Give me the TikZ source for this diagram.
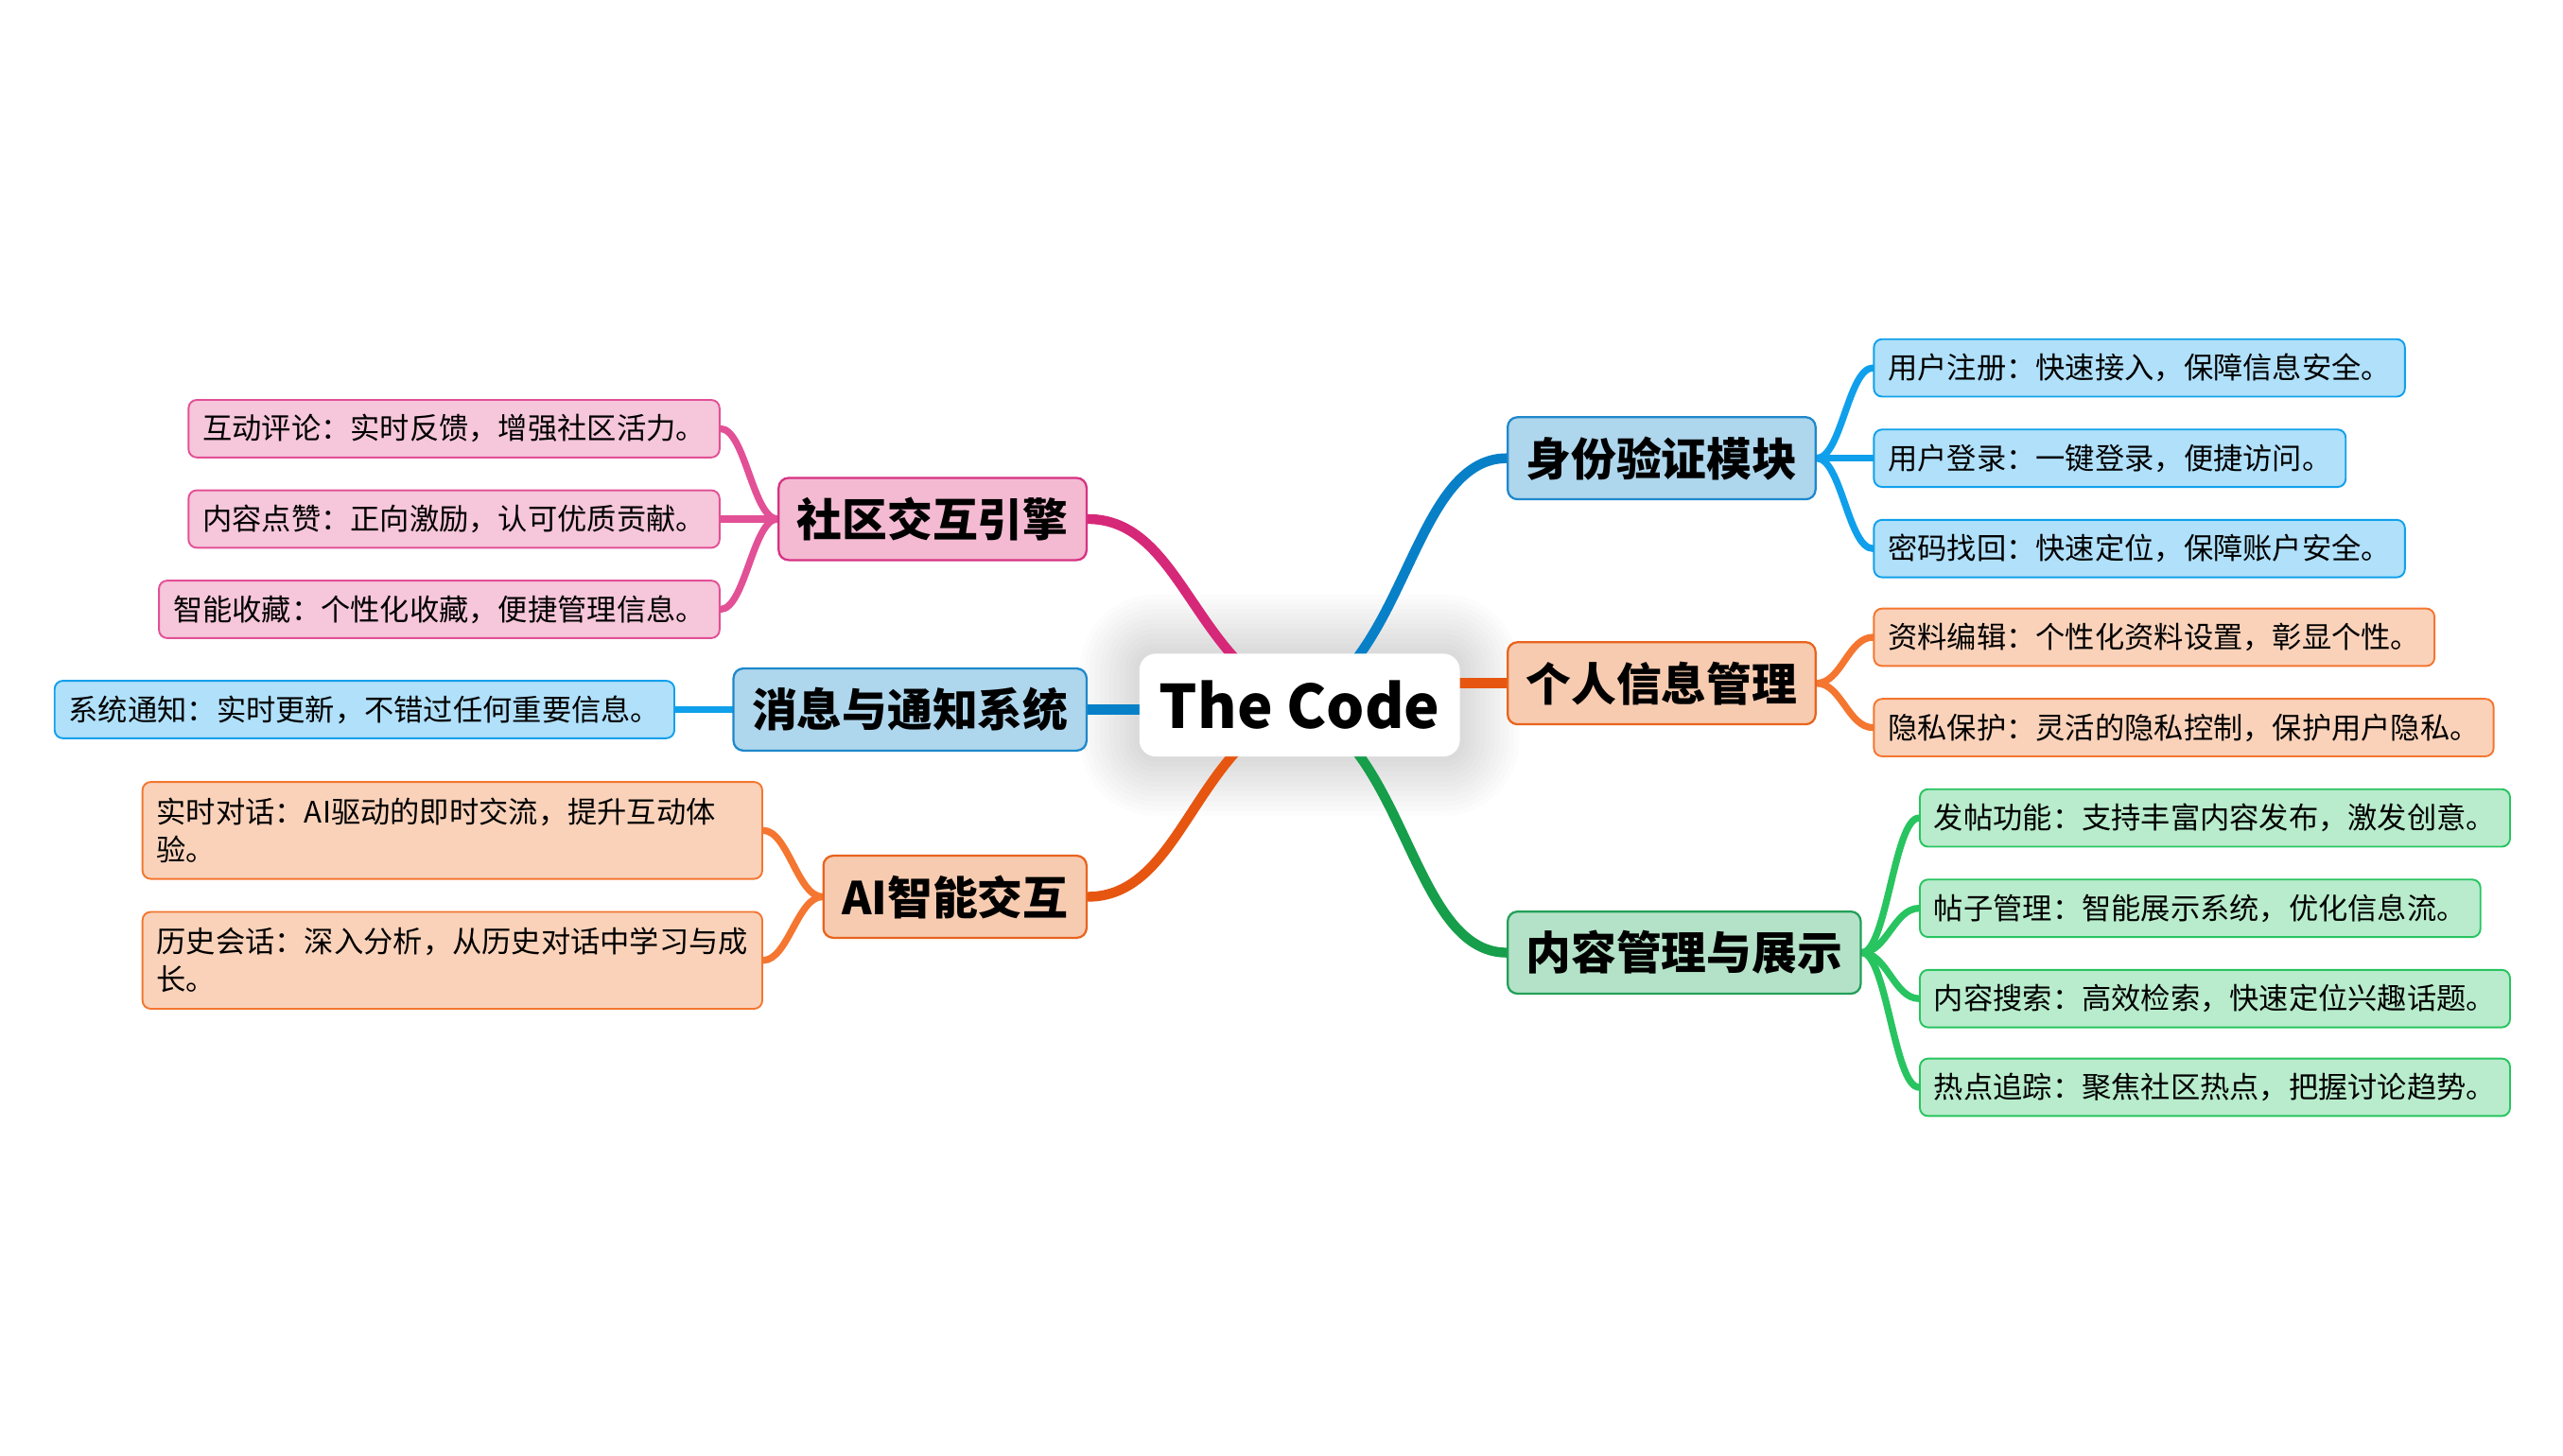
\documentclass[tikz,border=0pt]{standalone}
\usepackage{fontspec}
\setmainfont{Noto Sans CJK SC}
\usepackage{tikz}
\usetikzlibrary{backgrounds}
\usepackage{xcolor}
\definecolor{blueline}{RGB}{8, 128, 200}
\definecolor{bluemain}{RGB}{174, 214, 236}
\definecolor{blueedge}{RGB}{30, 136, 204}
\definecolor{bluesub}{RGB}{176, 224, 250}
\definecolor{bluetwig}{RGB}{16, 160, 235}
\definecolor{orangeline}{RGB}{230, 86, 16}
\definecolor{orangemain}{RGB}{247, 203, 176}
\definecolor{orangeedge}{RGB}{232, 100, 30}
\definecolor{orangesub}{RGB}{250, 210, 186}
\definecolor{orangetwig}{RGB}{244, 118, 48}
\definecolor{pinkline}{RGB}{214, 40, 120}
\definecolor{pinkmain}{RGB}{243, 186, 210}
\definecolor{pinkedge}{RGB}{214, 50, 130}
\definecolor{pinksub}{RGB}{246, 198, 218}
\definecolor{pinktwig}{RGB}{226, 80, 150}
\definecolor{greenline}{RGB}{22, 158, 74}
\definecolor{greenmain}{RGB}{180, 226, 200}
\definecolor{greenedge}{RGB}{34, 160, 88}
\definecolor{greensub}{RGB}{184, 236, 204}
\definecolor{greentwig}{RGB}{40, 196, 96}

\begin{document}
\begin{tikzpicture}[x=1pt,y=-1pt,
  topic/.style={draw,rounded corners=6pt,line width=1.3pt,minimum height=50pt,inner xsep=11.2pt,inner ysep=0pt,font=\fontsize{27.5}{31}\selectfont\bfseries},
  leaf/.style={draw,rounded corners=5pt,line width=1.1pt,minimum height=35pt,inner xsep=8.6pt,inner ysep=0pt,font=\fontsize{18}{23}\selectfont},
  branch/.style={line width=6pt,line cap=round},
  twig/.style={line width=4.2pt,line cap=round}]
\useasboundingbox (0,0) rectangle (1560,886);

\node[fill=white,rounded corners=10pt,minimum width=195pt,minimum height=62.6pt,inner sep=0pt,font=\fontsize{36.5}{40}\selectfont\bfseries] (root) at (791,429.3) {The Code};

% right side
\node[topic,fill=bluemain,draw=blueedge,anchor=west] (auth) at (917,279) {身份验证模块};
\node[leaf,fill=bluesub,draw=bluetwig,anchor=west] (reg) at (1140,224) {用户注册：快速接入，保障信息安全。};
\node[leaf,fill=bluesub,draw=bluetwig,anchor=west] (login) at (1140,279) {用户登录：一键登录，便捷访问。};
\node[leaf,fill=bluesub,draw=bluetwig,anchor=west] (reset) at (1140,334) {密码找回：快速定位，保障账户安全。};

\node[topic,fill=orangemain,draw=orangeedge,anchor=west] (info) at (917,416) {个人信息管理};
\node[leaf,fill=orangesub,draw=orangetwig,anchor=west] (edit) at (1140,388) {资料编辑：个性化资料设置，彰显个性。};
\node[leaf,fill=orangesub,draw=orangetwig,anchor=west] (privacy) at (1140,443) {隐私保护：灵活的隐私控制，保护用户隐私。};

\node[topic,fill=greenmain,draw=greenedge,anchor=west] (content) at (917,580) {内容管理与展示};
\node[leaf,fill=greensub,draw=greentwig,anchor=west] (post) at (1168,498) {发帖功能：支持丰富内容发布，激发创意。};
\node[leaf,fill=greensub,draw=greentwig,anchor=west] (manage) at (1168,553) {帖子管理：智能展示系统，优化信息流。};
\node[leaf,fill=greensub,draw=greentwig,anchor=west] (search) at (1168,608) {内容搜索：高效检索，快速定位兴趣话题。};
\node[leaf,fill=greensub,draw=greentwig,anchor=west] (trend) at (1168,662) {热点追踪：聚焦社区热点，把握讨论趋势。};

% left side
\node[topic,fill=pinkmain,draw=pinkedge,anchor=east] (engine) at (662,316) {社区交互引擎};
\node[leaf,fill=pinksub,draw=pinktwig,anchor=east] (comment) at (438.5,261) {互动评论：实时反馈，增强社区活力。};
\node[leaf,fill=pinksub,draw=pinktwig,anchor=east] (like) at (438.5,316) {内容点赞：正向激励，认可优质贡献。};
\node[leaf,fill=pinksub,draw=pinktwig,anchor=east] (fav) at (438.5,371) {智能收藏：个性化收藏，便捷管理信息。};

\node[topic,fill=bluemain,draw=blueedge,anchor=east] (notice) at (662,432) {消息与通知系统};
\node[leaf,fill=bluesub,draw=bluetwig,anchor=east] (sysmsg) at (411,432) {系统通知：实时更新，不错过任何重要信息。};

\node[topic,fill=orangemain,draw=orangeedge,anchor=east] (ai) at (662,546) {AI智能交互};
\node[leaf,fill=orangesub,draw=orangetwig,anchor=east,align=left,text width=360pt,minimum height=59pt] (chat) at (464.5,505.6) {实时对话：AI驱动的即时交流，提升互动体\\验。};
\node[leaf,fill=orangesub,draw=orangetwig,anchor=east,align=left,text width=360pt,minimum height=59pt] (history) at (464.5,584.7) {历史会话：深入分析，从历史对话中学习与成\\长。};

\begin{scope}[on background layer]
\foreach \g in {3,6,...,36}
  \fill[black,opacity=0.011,rounded corners=10pt+\g pt] ([xshift=-\g pt,yshift=-\g pt]root.south west) rectangle ([xshift=\g pt,yshift=\g pt]root.north east);

\draw[branch,blueline] (root.center) .. controls +(65,-26) and +(-57,0) .. (auth.west);
\draw[branch,orangeline] (root.center |- info.west) -- (info.west);
\draw[branch,greenline] (root.center) .. controls +(65,26) and +(-57,0) .. (content.west);
\draw[branch,pinkline] (root.center) .. controls +(-65,-26) and +(57,0) .. (engine.east);
\draw[branch,blueline] (root.center |- notice.east) -- (notice.east);
\draw[branch,orangeline] (root.center) .. controls +(-65,26) and +(57,0) .. (ai.east);

\draw[twig,bluetwig] (auth.east) .. controls +(15,0) and +(-15,0) .. (reg.west);
\draw[twig,bluetwig] (auth.east) .. controls +(15,0) and +(-15,0) .. (login.west);
\draw[twig,bluetwig] (auth.east) .. controls +(15,0) and +(-15,0) .. (reset.west);

\draw[twig,orangetwig] (info.east) .. controls +(15,0) and +(-15,0) .. (edit.west);
\draw[twig,orangetwig] (info.east) .. controls +(15,0) and +(-15,0) .. (privacy.west);

\draw[twig,greentwig] (content.east) .. controls +(15,0) and +(-15,0) .. (post.west);
\draw[twig,greentwig] (content.east) .. controls +(15,0) and +(-15,0) .. (manage.west);
\draw[twig,greentwig] (content.east) .. controls +(15,0) and +(-15,0) .. (search.west);
\draw[twig,greentwig] (content.east) .. controls +(15,0) and +(-15,0) .. (trend.west);

\draw[twig,pinktwig] (engine.west) .. controls +(-15,0) and +(15,0) .. (comment.east);
\draw[twig,pinktwig] (engine.west) .. controls +(-15,0) and +(15,0) .. (like.east);
\draw[twig,pinktwig] (engine.west) .. controls +(-15,0) and +(15,0) .. (fav.east);

\draw[twig,bluetwig] (notice.west) -- (sysmsg.east);

\draw[twig,orangetwig] (ai.west) .. controls +(-15,0) and +(15,0) .. (chat.east);
\draw[twig,orangetwig] (ai.west) .. controls +(-15,0) and +(15,0) .. (history.east);
\end{scope}

\end{tikzpicture}
\end{document}
